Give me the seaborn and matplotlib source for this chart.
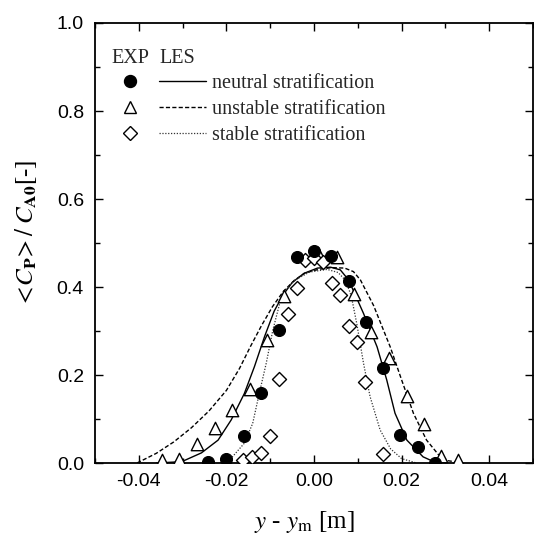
import numpy as np
import pandas as pd
import matplotlib
matplotlib.use('Agg')
import matplotlib.pyplot as plt
import seaborn as sns
from matplotlib.lines import Line2D
from matplotlib.ticker import MultipleLocator, FormatStrFormatter

# ---------------- data ----------------
# EXP, neutral stratification (filled circles)
neu_exp_x = [-0.0242, -0.0200, -0.0160, -0.0121, -0.0080, -0.0038, 0.0000, 0.0038,
             0.0079, 0.0118, 0.0157, 0.0197, 0.0237, 0.0277]
neu_exp_y = [0.002, 0.008, 0.062, 0.160, 0.303, 0.469, 0.481, 0.470,
             0.413, 0.320, 0.216, 0.064, 0.036, 0.001]

# EXP, unstable stratification (open triangles)
uns_exp_x = [-0.0348, -0.0308, -0.0268, -0.0227, -0.0187, -0.0147, -0.0107, -0.0068,
             0.0010, 0.0053, 0.0091, 0.0131, 0.0171, 0.0212, 0.0251, 0.0291, 0.0328]
uns_exp_y = [0.006, 0.008, 0.043, 0.080, 0.121, 0.169, 0.280, 0.379,
             0.477, 0.468, 0.385, 0.298, 0.238, 0.153, 0.089, 0.017, 0.007]

# EXP, stable stratification (open diamonds)
sta_exp_x = [-0.0161, -0.0141, -0.0121, -0.0100, -0.0079, -0.0060, -0.0038, -0.0021,
             0.0000, 0.0021, 0.0042, 0.0060, 0.0079, 0.0098, 0.0117, 0.0157]
sta_exp_y = [0.007, 0.013, 0.022, 0.061, 0.192, 0.339, 0.397, 0.461,
             0.467, 0.456, 0.410, 0.382, 0.312, 0.276, 0.185, 0.021]

# LES, neutral (solid)
neu_les_x = [-0.0360, -0.0302, -0.0257, -0.0219, -0.0189, -0.0159, -0.0136, -0.0113,
             -0.0091, -0.0072, -0.0050, -0.0023, 0.0008, 0.0038, 0.0060, 0.0079,
             0.0113, 0.0144, 0.0166, 0.0185, 0.0212, 0.0249, 0.0280]
neu_les_y = [0.000, 0.003, 0.023, 0.052, 0.098, 0.158, 0.219, 0.287,
             0.345, 0.380, 0.410, 0.431, 0.443, 0.445, 0.439, 0.416,
             0.340, 0.264, 0.189, 0.113, 0.052, 0.014, 0.000]

# LES, unstable (dashed)
uns_les_x = [-0.0404, -0.0360, -0.0320, -0.0280, -0.0240, -0.0200, -0.0170, -0.0145,
             -0.0120, -0.0095, -0.0070, -0.0045, -0.0020, 0.0010, 0.0040, 0.0070,
             0.0090, 0.0106, 0.0136, 0.0174, 0.0200, 0.0227, 0.0257, 0.0294, 0.0340]
uns_les_y = [0.000, 0.022, 0.048, 0.080, 0.118, 0.165, 0.215, 0.265,
             0.312, 0.355, 0.390, 0.415, 0.432, 0.440, 0.444, 0.443,
             0.435, 0.416, 0.358, 0.264, 0.189, 0.113, 0.052, 0.007, 0.000]

# LES, stable (dotted)
sta_les_x = [-0.0215, -0.0196, -0.0159, -0.0140, -0.0125, -0.0109, -0.0094, -0.0079,
             -0.0065, -0.0045, -0.0010, 0.0030, 0.0055, 0.0072, 0.0085, 0.0098,
             0.0113, 0.0128, 0.0151, 0.0175, 0.0200, 0.0234]
sta_les_y = [0.000, 0.003, 0.045, 0.090, 0.158, 0.227, 0.302, 0.360,
             0.392, 0.415, 0.434, 0.440, 0.433, 0.415, 0.380, 0.315,
             0.227, 0.151, 0.075, 0.032, 0.010, 0.000]

legend_labels = ['neutral stratification', 'unstable stratification', 'stable stratification']
x_label = r'$y$ - $y_{\mathrm{m}}$ [m]'
y_label = r'$<\!C_{\mathbf{P}}\!>/\;C_{\mathbf{A0}}$[-]'

# ---------------- style ----------------
sns.set_theme(style='ticks')
plt.rcParams['font.family'] = ['Liberation Serif', 'DejaVu Serif']
plt.rcParams['mathtext.fontset'] = 'stix'
plt.rcParams['axes.unicode_minus'] = False

fig = plt.figure(figsize=(5.34, 5.38), dpi=100)
ax = fig.add_axes([95 / 534, 1 - 463 / 538, 438 / 534, 440 / 538])

# LES lines
sns.lineplot(x=neu_les_x, y=neu_les_y, ax=ax, color='black', lw=1.0,
             estimator=None, sort=False, zorder=2)
sns.lineplot(x=uns_les_x, y=uns_les_y, ax=ax, color='black', lw=1.0,
             ls=(0, (3, 1.6)), estimator=None, sort=False, zorder=2)
sns.lineplot(x=sta_les_x, y=sta_les_y, ax=ax, color='#333333', lw=0.9,
             ls=(0, (1, 1.3)), estimator=None, sort=False, zorder=2)

# EXP markers
s_circle, s_tri, s_dia = 74, 80, 51
sns.scatterplot(x=neu_exp_x, y=neu_exp_y, ax=ax, marker='o', s=s_circle,
                color='black', edgecolor='black', linewidth=0.8, zorder=4)
sns.scatterplot(x=uns_exp_x, y=uns_exp_y, ax=ax, marker='^', s=s_tri,
                facecolor='white', edgecolor='black', linewidth=1.0, zorder=3)
sns.scatterplot(x=sta_exp_x, y=sta_exp_y, ax=ax, marker='D', s=s_dia,
                facecolor='white', edgecolor='black', linewidth=1.0, zorder=3)

# axes
ax.set_xlim(-0.05, 0.05)
ax.set_ylim(0.0, 1.0)
ax.xaxis.set_major_locator(MultipleLocator(0.02))
ax.xaxis.set_minor_locator(MultipleLocator(0.01))
ax.yaxis.set_major_locator(MultipleLocator(0.2))
ax.yaxis.set_minor_locator(MultipleLocator(0.1))
ax.xaxis.set_major_formatter(FormatStrFormatter('%.2f'))
ax.yaxis.set_major_formatter(FormatStrFormatter('%.1f'))
ax.tick_params(which='both', direction='in', top=True, right=True, color='black', width=1.0)
ax.tick_params(which='major', length=6)
ax.tick_params(which='minor', length=3.5)
ax.tick_params(axis='x', which='major', pad=7, labelsize=14)
ax.tick_params(axis='y', which='major', pad=8, labelsize=14)
for lab in ax.get_xticklabels() + ax.get_yticklabels():
    lab.set_family('Liberation Sans')
    lab.set_color('black')
for sp in ax.spines.values():
    sp.set_linewidth(1.3)
    sp.set_color('black')

ax.set_xlabel(x_label, fontsize=18, color='black')
ax.set_ylabel(y_label, fontsize=18, color='black')
ax.xaxis.set_label_coords(0.479, -0.105)
ax.yaxis.set_label_coords(-0.128, 0.523)

# legends
prop = dict(family='Liberation Serif', size=14.5)
hA = [Line2D([], [], ls='none', marker='o', ms=8.6, mfc='black', mec='black'),
      Line2D([], [], ls='none', marker='^', ms=8.9, mfc='white', mec='black', mew=1.0),
      Line2D([], [], ls='none', marker='D', ms=7.1, mfc='white', mec='black', mew=1.0)]
hB = [Line2D([], [], color='black', lw=1.0),
      Line2D([], [], color='black', lw=1.0, ls=(0, (3, 1.6))),
      Line2D([], [], color='#333333', lw=0.9, ls=(0, (1, 1.3)))]

top = 0.942
lsp = 0.33
legA = ax.legend(hA, ['', '', ''], title='EXP', loc='upper center',
                 bbox_to_anchor=((130 - 95) / 438, top), frameon=False, prop=prop,
                 title_fontproperties=prop, handlelength=1.5, handletextpad=0,
                 borderpad=0, borderaxespad=0, labelspacing=lsp, alignment='center')
ax.add_artist(legA)
legB = ax.legend(hB, legend_labels, title='LES', loc='upper left',
                 bbox_to_anchor=((159 - 95) / 438, top), frameon=False, prop=prop,
                 title_fontproperties=prop, handlelength=2.35, handletextpad=0.3,
                 borderpad=0, borderaxespad=0, labelspacing=lsp, alignment='left')

fig.savefig('out.png', dpi=100)
